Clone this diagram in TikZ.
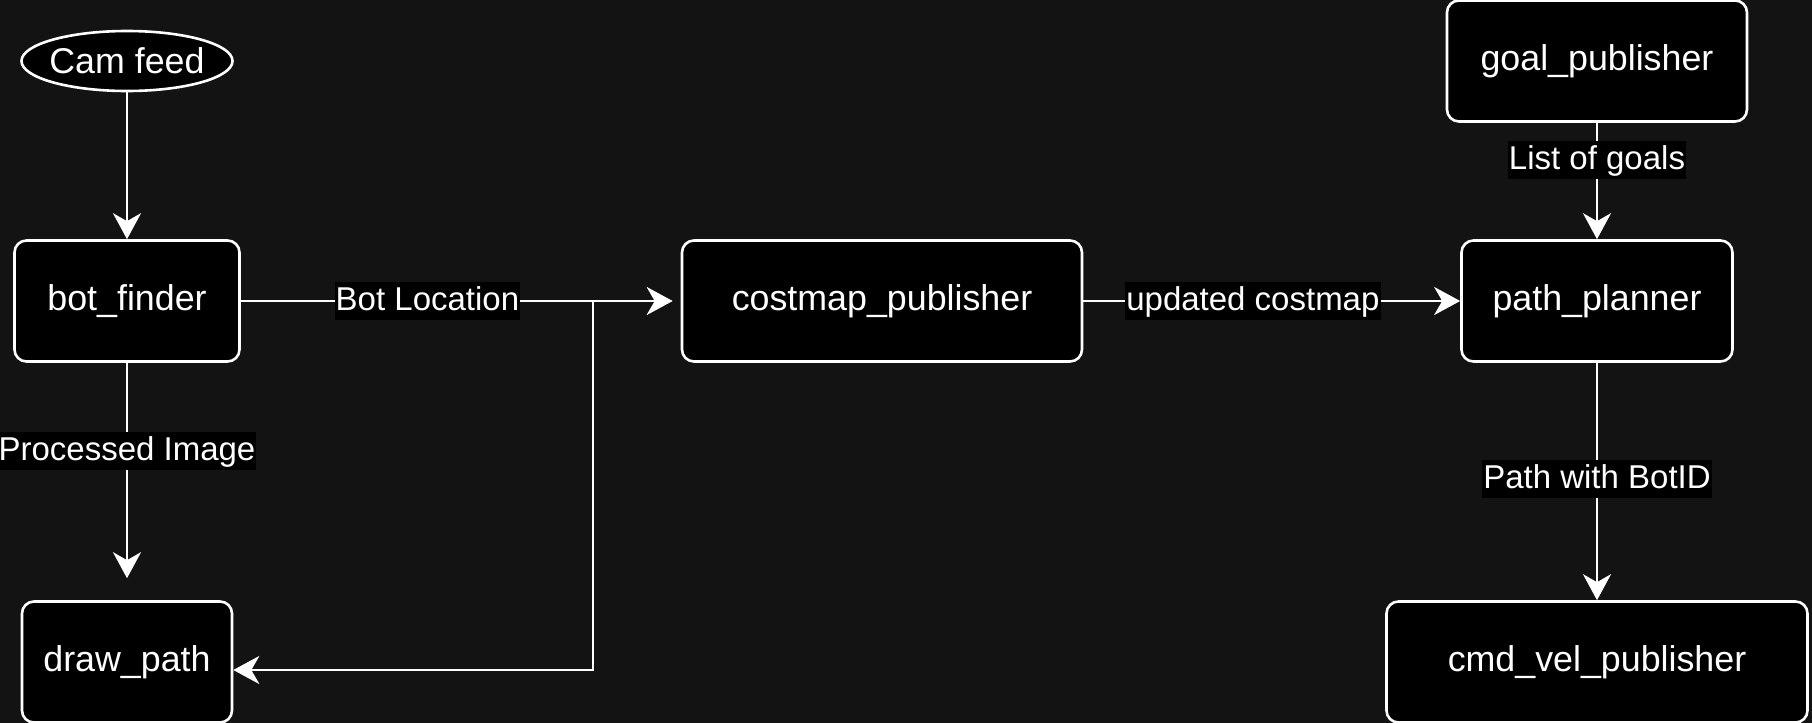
\documentclass[tikz,border=0pt]{standalone}
\usepackage{fontspec}
\setmainfont{Liberation Sans}
\usetikzlibrary{arrows.meta,shapes.geometric}
\definecolor{canvas}{RGB}{19,19,19}
\begin{document}
\begin{tikzpicture}[x=0.5pt,y=-0.5pt,
  box/.style={draw=white,line width=1.3pt,fill=black,rounded corners=6pt,text=white,
    font=\fontsize{17.9}{20}\selectfont,minimum height=60.5pt,inner sep=0pt},
  feed/.style={ellipse,draw=white,line width=1.3pt,fill=black,text=white,
    font=\fontsize{17.9}{20}\selectfont,minimum width=105pt,minimum height=30pt,
    inner xsep=-1.5pt,inner ysep=0pt},
  lbl/.style={fill=black,text=white,font=\fontsize{16.5}{19}\selectfont,
    inner xsep=0.5pt,inner ysep=1.5pt,text height=12.5pt,text depth=3.5pt},
  wire/.style={draw=white,line width=1.4pt},
  link/.style={wire,-{Stealth[length=13pt,width=14pt,inset=4pt]}}]
\useasboundingbox (0,0) rectangle (1812,723);
\fill[canvas] (-4,-4) rectangle (1816,727);
% nodes
\node[feed] (cam) at (127,61) {Cam feed};
\node[box,minimum width=112.5pt] (botfinder) at (127,301) {bot\_finder};
\node[box,minimum width=105pt] (drawpath) at (127,662) {draw\_path};
\node[box,minimum width=200pt] (costmap) at (882,301) {costmap\_publisher};
\node[box,minimum width=150pt] (goalpub) at (1597,61) {goal\_publisher};
\node[box,minimum width=135.5pt] (planner) at (1597,301) {path\_planner};
\node[box,minimum width=210.5pt] (cmdvel) at (1597,662) {cmd\_vel\_publisher};
% loose ends
\coordinate (branch) at (593,301);
\coordinate (costin) at ([xshift=-4pt]costmap.west);
\coordinate (drawin) at ([yshift=-4pt]drawpath.east);
\coordinate (imgend) at ([yshift=11pt]drawpath.north);
% edges
\draw[link] (cam) -- (botfinder);
\draw[wire] (botfinder.east) -- node[lbl,pos=0.53] {Bot Location} (branch);
\draw[link] (branch) -- (costin);
\draw[link] (branch) |- (drawin);
\draw[link] (botfinder) -- node[lbl,pos=0.41] {Processed Image} (imgend);
\draw[link] (costmap) -- node[lbl,pos=0.45] {updated costmap} (planner);
\draw[link] (goalpub) -- node[lbl,pos=0.32] {List of goals} (planner);
\draw[link] (planner) -- node[lbl,pos=0.49] {Path with BotID} (cmdvel);
\end{tikzpicture}
\end{document}
